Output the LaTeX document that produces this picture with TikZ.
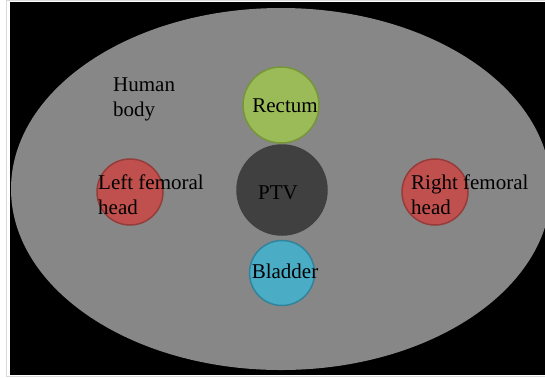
\documentclass[tikz,border=0pt]{standalone}
\usepackage{fontspec}
\setmainfont{Liberation Serif}
\definecolor{bodygray}{HTML}{878787}
\definecolor{ptvgray}{HTML}{404040}
\definecolor{rectgreen}{HTML}{9BBB59}
\definecolor{rectedge}{HTML}{76963A}
\definecolor{bladblue}{HTML}{4BACC6}
\definecolor{bladedge}{HTML}{31849B}
\definecolor{femred}{HTML}{C0504D}
\definecolor{femedge}{HTML}{963C3A}
\tikzset{
  organ/.style={circle, inner sep=0pt, line width=1.5bp},
  lbl/.style={inner sep=0pt, font=\fontsize{21bp}{25bp}\selectfont, text=black},
}
\begin{document}
\begin{tikzpicture}[x=1bp,y=-1bp]
\useasboundingbox (0,0) rectangle (545,378);
\fill[white] (0,0) rectangle (545,378);
\draw[black!15, line width=1bp] (6.5,0.5) rectangle (546,376);
\fill[black] (10,2) rectangle (545,375);
\begin{scope}
\clip (10,2) rectangle (545,375);
\fill[bodygray] (281,189) ellipse [x radius=270bp, y radius=181bp];
\end{scope}
% organs
\node[organ, fill=rectgreen, draw=rectedge, minimum size=76bp] (rectum) at (281,105) {};
\node[organ, fill=ptvgray, draw=ptvgray, minimum size=90bp] (ptv) at (282,190) {};
\node[organ, fill=bladblue, draw=bladedge, minimum size=65bp] (bladder) at (282,273) {};
\node[organ, fill=femred, draw=femedge, minimum size=66bp] (lfh) at (130,192) {};
\node[organ, fill=femred, draw=femedge, minimum size=66bp] (rfh) at (435,192) {};
% labels
\node[lbl, anchor=base] (rectumtxt) at (285,112) {Rectum};
\node[lbl, anchor=base] (ptvtxt) at (278,199) {PTV};
\node[lbl, anchor=base] (bladdertxt) at (285,278) {Bladder};
\node[lbl, anchor=base west] (humanA) at (113,91) {Human};
\node[lbl, anchor=base west] (humanB) at (113,116) {body};
\node[lbl, anchor=base west] (lfhA) at (98,189) {Left femoral};
\node[lbl, anchor=base west] (lfhB) at (98,214) {head};
\node[lbl, anchor=base west] (rfhA) at (411,189) {Right femoral};
\node[lbl, anchor=base west] (rfhB) at (411,214) {head};
\end{tikzpicture}
\end{document}
